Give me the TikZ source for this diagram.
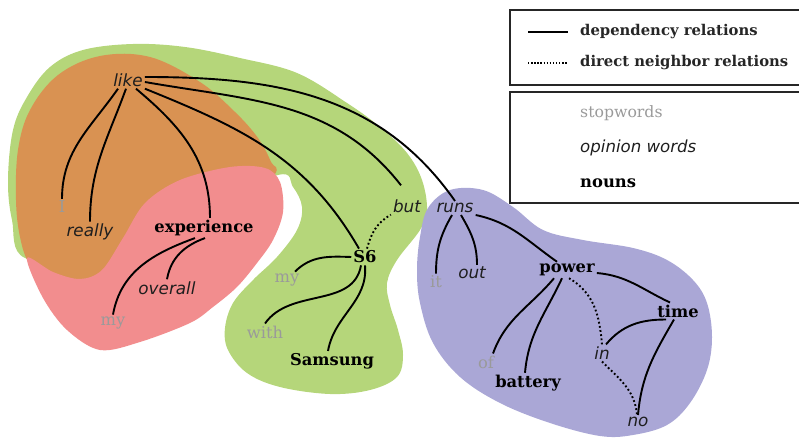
\documentclass[tikz,border=0pt]{standalone}
\usepackage{fontspec}
\setmainfont{DejaVu Serif}
\newfontfamily\opfont{DejaVu Sans}
\definecolor{blobgreen}{HTML}{B5D67A}
\definecolor{bloborange}{HTML}{D99252}
\definecolor{blobpink}{HTML}{F28D8E}
\definecolor{blobpurple}{HTML}{AAA7D6}
\definecolor{stopgrey}{HTML}{9A9A9A}
\definecolor{inkdark}{HTML}{1E1E1E}
\tikzset{
  word/.style={inner sep=2pt, anchor=center},
  stopw/.style={word, text=stopgrey, font=\fontsize{16.3}{19}\selectfont},
  opin/.style={word, text=inkdark, font=\opfont\itshape\fontsize{16.8}{19}\selectfont},
  noun/.style={word, text=black, font=\bfseries\fontsize{16.3}{19}\selectfont},
  dep/.style={line width=1.9pt, black},
  nbr/.style={line width=1.9pt, black, dash pattern=on 1.8pt off 2.4pt},
  legbox/.style={draw=black!85, line width=1.8pt},
  legtext/.style={anchor=west, inner sep=0pt, text=black!85, font=\bfseries\fontsize{14.8}{17}\selectfont},
}
\begin{document}
\begin{tikzpicture}[x=1pt,y=1pt]
\useasboundingbox (0,0) rectangle (799,439);

% clusters
\fill[blobgreen] plot[smooth cycle, tension=0.6] coordinates {
  (8,259) (13,309) (27,342) (50,372) (83,389) (133,395) (185,392) (240,381)
  (297,366) (347,336) (380,312) (407,286) (422,259) (427,229) (420,209)
  (397,179) (387,156) (390,134) (398,109) (403,84) (397,62) (370,49) (330,45)
  (280,52) (247,66) (228,89) (225,111) (233,136) (253,159) (277,182)
  (297,209) (302,232) (293,252) (278,264) (200,229) (100,179) (25,181) (12,219)};
\fill[bloborange] plot[smooth cycle, tension=0.6] coordinates {
  (150,382) (200,357) (235,327) (258,301) (271,277) (274,263) (230,209)
  (130,139) (55,147) (30,174) (20,202) (16,239) (18,289) (30,329) (58,364)
  (100,383)};
\fill[blobpink] plot[smooth cycle, tension=0.55] coordinates {
  (27,181) (53,167) (80,160) (102,169) (123,201) (145,236) (180,259)
  (230,272) (265,271) (280,257) (283,227) (273,199) (257,176) (237,152)
  (213,132) (190,116) (140,97) (100,89) (67,109) (43,141)};
\fill[blobpurple] plot[smooth cycle, tension=0.6] coordinates {
  (450,249) (483,249) (513,232) (543,209) (583,199) (633,191) (667,179)
  (693,159) (707,136) (712,102) (707,69) (690,36) (667,14) (633,4) (600,3)
  (550,16) (500,36) (460,62) (433,96) (420,136) (417,169) (420,202) (428,231)};

% words
\node[opin]  (like)   at (128,359) {like};
\node[stopw] (I)      at (62,232)  {I};
\node[opin]  (really) at (90,207)  {really};
\node[noun]  (exp)    at (204,211) {experience};
\node[opin]  (overall) at (167,151) {overall};
\node[stopw] (myA)    at (113,116) {my};
\node[noun]  (S6)     at (365,182) {S6};
\node[stopw] (myB)    at (287,159) {my};
\node[stopw] (with)   at (265,107) {with};
\node[noun]  (Samsung) at (332,78) {Samsung};
\node[opin]  (but)    at (407,233) {but};
\node[opin]  (runs)   at (455,231) {runs};
\node[stopw] (it)     at (436,157) {it};
\node[opin]  (out)    at (472,166) {out};
\node[noun]  (power)  at (567,169) {power};
\node[noun]  (time)   at (678,128) {time};
\node[opin]  (in)     at (602,86)  {in};
\node[stopw] (of)     at (486,77)  {of};
\node[noun]  (battery) at (528,56) {battery};
\node[opin]  (no)     at (638,17)  {no};

% dependency relations
\draw[dep] ([xshift=-10pt]like.south) to[out=-125,in=90] (I.north);
\draw[dep] ([xshift=-2pt]like.south) to[out=-110,in=90] (really.north);
\draw[dep] ([xshift=8pt]like.south) to[out=-40,in=90] ([xshift=6pt]exp.north);
\draw[dep] (like.south east) to[out=-22,in=120] ([xshift=-6pt]S6.north);
\draw[dep] ([yshift=-2pt]like.east) to[out=-10,in=128] ([shift={(-6pt,12pt)}]but.north);
\draw[dep] ([yshift=3pt]like.east) to[out=0,in=125] (runs.north);
\draw[dep] ([xshift=-9pt]exp.south) to[out=200,in=80] (myA.north);
\draw[dep] ([xshift=1pt]exp.south) to[out=200,in=80] (overall.north);
\draw[dep] (S6.west) to[out=178,in=45] ([xshift=8pt]myB.north);
\draw[dep] ([xshift=-4pt]S6.south) to[out=-100,in=55] (with.north);
\draw[dep] ([xshift=0pt]S6.south) to[out=-85,in=80] ([xshift=-4pt]Samsung.north);
\draw[dep] ([xshift=-3pt]runs.south) to[out=-120,in=90] (it.north);
\draw[dep] ([xshift=6pt]runs.south) to[out=-60,in=90] ([xshift=5pt]out.north);
\draw[dep] (runs.south east) to[out=-12,in=145] ([xshift=-10pt]power.north);
\draw[dep] ([xshift=-13pt]power.south) to[out=-130,in=70] ([xshift=7pt]of.north);
\draw[dep] ([xshift=-5pt]power.south) to[out=-115,in=85] ([xshift=-3pt]battery.north);
\draw[dep] ([yshift=-3pt]power.east) to[out=-5,in=155] ([xshift=-8pt]time.north);
\draw[dep] ([xshift=-12pt]time.south) to[out=180,in=50] ([xshift=4pt]in.north);
\draw[dep] ([xshift=-4pt]time.south) to[out=-120,in=85] (no.north);

% direct neighbor relations
\draw[nbr] ([xshift=2pt]S6.north) to[out=75,in=210] (but.south west);
\draw[nbr] ([xshift=2pt]power.south) to[out=-30,in=95] (in.north);
\draw[nbr] (in.south) to[out=-45,in=95] ([xshift=-1pt]no.north);

% legend
\draw[legbox] (510,429) rectangle (812,354);
\draw[legbox] (510,347) rectangle (812,236);
\coordinate (ls1) at (528,407); \coordinate (le1) at (568,407);
\coordinate (ls2) at (528,376); \coordinate (le2) at (568,376);
\draw[dep] (ls1) -- (le1);
\draw[line width=1.4pt, black, dash pattern=on 1.4pt off 1.7pt] (ls2) -- (le2);
\node[legtext] (l1) at (580,407) {dependency relations};
\node[legtext] (l2) at (580,376) {direct neighbor relations};
\node[legtext, text=stopgrey, font=\fontsize{15.7}{18}\selectfont] (l3) at (580,326) {stopwords};
\node[legtext, text=inkdark, font=\opfont\itshape\fontsize{16.6}{19}\selectfont] (l4) at (580,291) {opinion words};
\node[legtext, text=black, font=\bfseries\fontsize{16.4}{19}\selectfont] (l5) at (580,256) {nouns};
\end{tikzpicture}
\end{document}
